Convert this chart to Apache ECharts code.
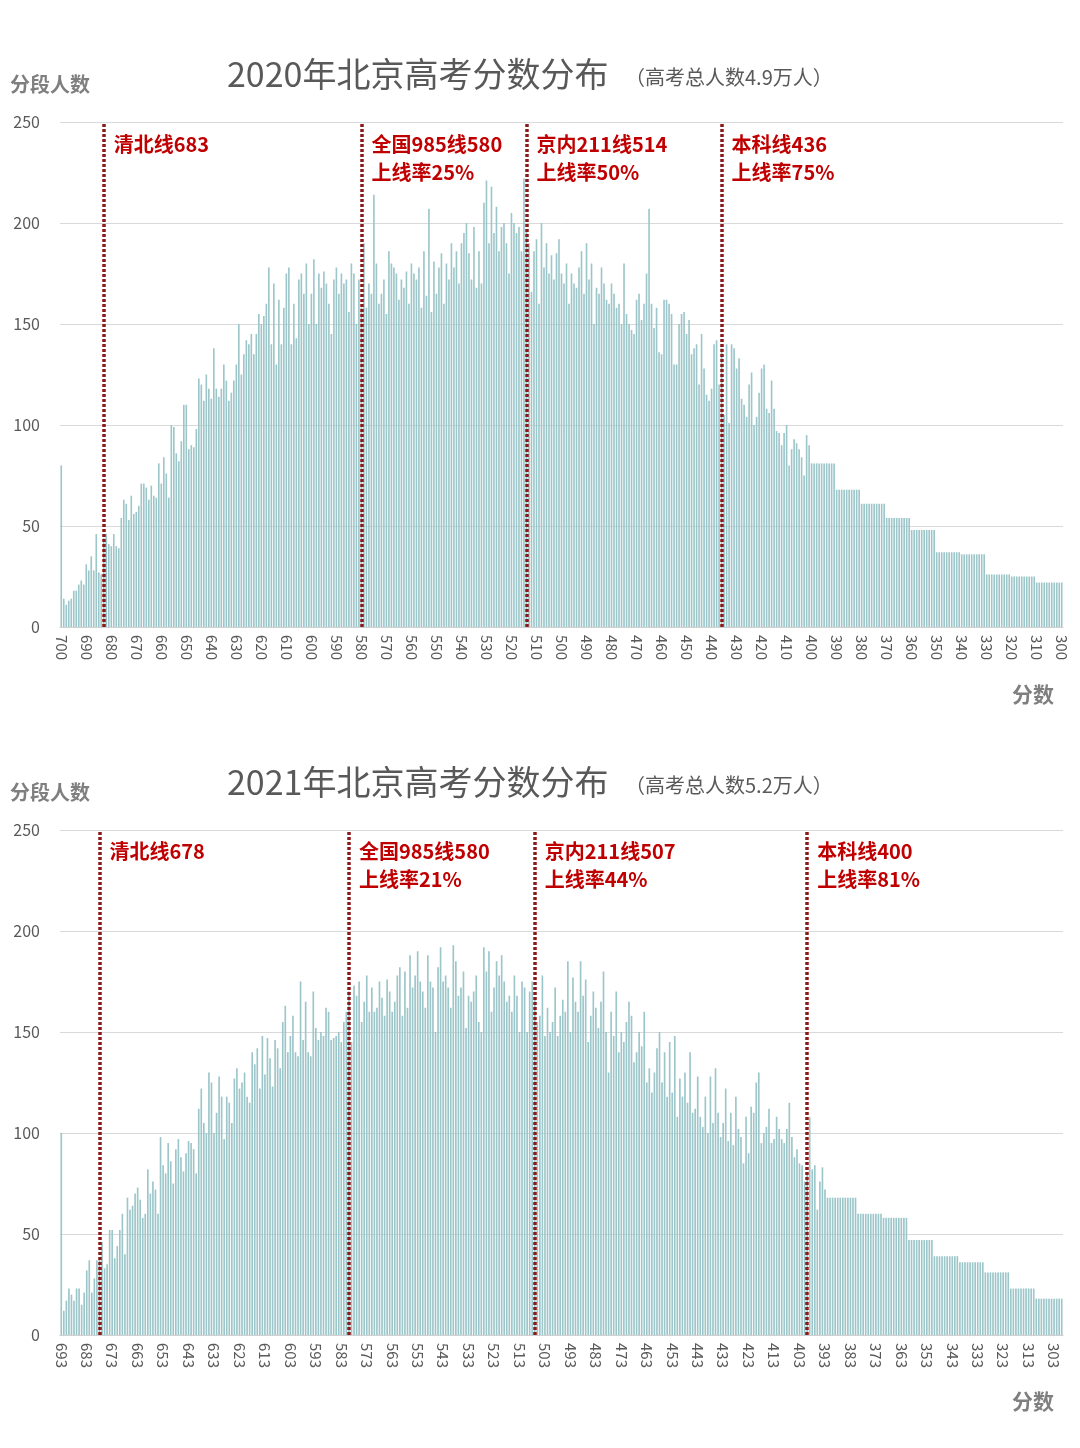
<!DOCTYPE html>
<html><head><meta charset="utf-8">
<script src="https://cdn.jsdelivr.net/npm/echarts@6/dist/echarts.min.js"></script>
<style>html,body{margin:0;padding:0;background:#fff}#c{width:1080px;height:1448px}</style>
</head><body><div id="c"></div>
<script>
// ---- 2020 data (scores 700 -> 300) ----
const scores2020 = [];
for (let s = 700; s >= 300; s--) scores2020.push(String(s));
const counts2020 = [
 80,
 14,11,13,14,18,18,21,23,21,31,
 28,35,28,46,27,26,44,46,41,40,
 46,40,39,54,63,61,53,65,56,57,
 60,71,71,69,63,70,65,64,81,71,
 84,76,64,100,99,86,82,92,110,110,
 88,90,89,98,123,120,112,125,118,113,
 138,118,114,118,130,122,112,116,122,130,
 150,125,135,142,140,145,135,145,155,150,
 154,160,178,140,170,130,162,140,158,175,
 178,140,160,143,172,175,165,180,150,165,
 182,150,175,168,176,170,160,145,172,178,
 165,175,170,172,156,180,175,150,172,158,
 190,158,170,165,214,180,160,165,172,155,
 186,180,178,175,162,172,168,176,160,180,
 175,172,178,158,186,164,207,156,181,165,
 178,185,160,180,172,190,178,186,170,190,
 195,200,185,172,198,168,186,170,210,221,
 190,218,195,208,186,198,200,190,175,205,
 200,195,198,186,222,196,190,166,186,192,
 160,200,178,190,175,184,172,185,192,175,
 170,180,160,175,170,168,178,186,165,190,
 172,180,150,168,165,178,170,162,160,170,
 165,158,160,150,180,155,150,147,145,162,
 165,152,160,175,207,160,148,158,136,135,
 162,162,160,155,130,130,150,155,156,145,
 152,135,138,140,120,145,128,115,112,118,
 140,142,120,138,105,140,101,140,138,128,
 133,113,110,104,120,126,100,104,116,128,
 130,108,106,122,108,97,96,90,96,100,
 80,88,93,91,88,84,75,95,90,81,
 81,81,81,81,81,81,81,81,81,
 68,68,68,68,68,68,68,68,68,68,
 61,61,61,61,61,61,61,61,61,61,
 54,54,54,54,54,54,54,54,54,54,
 48,48,48,48,48,48,48,48,48,48,
 37,37,37,37,37,37,37,37,37,37,
 36,36,36,36,36,36,36,36,36,36,
 26,26,26,26,26,26,26,26,26,26,
 25,25,25,25,25,25,25,25,25,25,
 22,22,22,22,22,22,22,22,22,22,22
];
const lines2020 = [
 {score:'683', text:'清北线683'},
 {score:'580', text:'全国985线580\n上线率25%'},
 {score:'514', text:'京内211线514\n上线率50%'},
 {score:'436', text:'本科线436\n上线率75%'}
];
// ---- 2021 data (scores 693 -> 300) ----
const scores2021 = [];
for (let s = 693; s >= 300; s--) scores2021.push(String(s));
const counts2021 = [
 100,
 12,17,23,20,17,23,23,15,21,32,
 37,21,28,37,38,46,33,35,52,52,
 38,44,52,60,40,68,62,64,70,73,
 67,58,60,82,70,76,72,60,98,84,
 80,95,86,75,92,97,88,81,90,96,
 95,92,80,112,122,105,100,130,125,100,
 110,128,118,97,118,115,105,127,132,122,
 125,130,118,115,140,134,142,122,148,129,
 147,137,123,146,142,132,155,163,140,148,
 158,140,138,175,146,165,140,138,170,152,
 146,150,148,162,160,146,147,148,150,145,
 155,160,170,145,173,168,175,155,165,178,
 160,172,160,162,175,167,158,176,170,160,
 165,178,182,158,180,162,188,172,178,190,
 175,170,162,188,175,172,150,182,192,175,
 178,172,162,193,185,168,172,180,152,168,
 165,170,178,155,150,192,180,190,160,172,
 185,178,188,175,165,168,160,178,168,150,
 175,172,150,170,175,167,155,158,178,148,
 162,150,155,172,148,158,166,160,185,150,
 177,165,160,185,168,176,145,158,170,162,
 152,165,180,150,130,160,148,170,140,150,
 145,155,165,158,135,140,150,143,160,125,
 132,120,130,142,150,125,140,118,145,120,
 148,108,127,118,130,115,140,110,112,128,
 108,103,118,100,128,105,132,110,98,105,
 122,96,110,94,118,102,98,85,108,90,
 113,110,125,130,95,100,103,112,95,97,
 108,102,97,95,102,115,98,88,92,85,
 84,76,80,108,82,84,62,76,83,72,
 68,68,68,68,68,68,68,68,68,68,68,68,
 60,60,60,60,60,60,60,60,60,60,
 58,58,58,58,58,58,58,58,58,58,
 47,47,47,47,47,47,47,47,47,47,
 39,39,39,39,39,39,39,39,39,39,
 36,36,36,36,36,36,36,36,36,36,
 31,31,31,31,31,31,31,31,31,31,
 23,23,23,23,23,23,23,23,23,23,
 18,18,18,18,18,18,18,18,18,18,18
];
const lines2021 = [
 {score:'678', text:'清北线678'},
 {score:'580', text:'全国985线580\n上线率21%'},
 {score:'507', text:'京内211线507\n上线率44%'},
 {score:'400', text:'本科线400\n上线率81%'}
];

const FONT = '"Noto Sans CJK SC","Noto Sans",sans-serif';
const chart = echarts.init(document.getElementById('c'), null, {renderer:'canvas'});
const grids = [{left:60, right:17, top:122, height:505}, {left:60, right:17, top:830, height:505}];
function xAx(i, cats){
  return {type:'category', gridIndex:i, data:cats,
    axisLine:{show:true, lineStyle:{color:'#d0d0d0'}}, axisTick:{show:false},
    axisLabel:{interval:9, rotate:-90, color:'#595959', fontSize:15, fontFamily:FONT, margin:8}};
}
function yAx(i){
  return {type:'value', gridIndex:i, min:0, max:250, interval:50,
    axisLine:{show:false}, axisTick:{show:false},
    axisLabel:{color:'#595959', fontSize:16, fontFamily:FONT, margin:20},
    splitLine:{lineStyle:{color:'#d9d9d9'}}};
}
function ser(i, data, lines){
  return {type:'bar', xAxisIndex:i, yAxisIndex:i, data:data, barCategoryGap:'35%',
    itemStyle:{color:'#9cc6c9'}, silent:true,
    markLine:{symbol:'none', silent:true, label:{show:false},
      lineStyle:{color:'#8b1a1a', width:3.5, type:[3,2]},
      data: lines.map(l=>({xAxis:l.score}))}};
}
chart.setOption({
  animation:false,
  grid:grids,
  xAxis:[xAx(0, scores2020), xAx(1, scores2021)],
  yAxis:[yAx(0), yAx(1)],
  series:[ser(0, counts2020, lines2020), ser(1, counts2021, lines2021)]
});
const g = [];
function titles(y0, year, total){
  g.push({type:'text', left:227, top:y0-20, style:{text:year+'年北京高考分数分布', fontSize:34, fill:'#595959', fontFamily:FONT}});
  g.push({type:'text', left:625, top:y0-10, style:{text:'（高考总人数'+total+'万人）', fontSize:20, fill:'#595959', fontFamily:FONT}});
  g.push({type:'text', left:10, top:y0-3, style:{text:'分段人数', fontSize:20, fontWeight:'bold', fill:'#7f7f7f', fontFamily:FONT}});
}
titles(77, '2020', '4.9');
titles(785, '2021', '5.2');
g.push({type:'text', left:1012, top:684, style:{text:'分数', fontSize:21, fontWeight:'bold', fill:'#7f7f7f', fontFamily:FONT}});
g.push({type:'text', left:1012, top:1391, style:{text:'分数', fontSize:21, fontWeight:'bold', fill:'#7f7f7f', fontFamily:FONT}});
function ann(idx, lines, top){
  lines.forEach(l=>{
    const px = chart.convertToPixel({xAxisIndex:idx}, l.score);
    g.push({type:'text', left:px+10, top:top, style:{text:l.text, fontSize:20, lineHeight:28, fontWeight:'bold', fill:'#c00000', fontFamily:FONT}});
  });
}
ann(0, lines2020, 130);
ann(1, lines2021, 837);
chart.setOption({graphic:g});
</script></body></html>
